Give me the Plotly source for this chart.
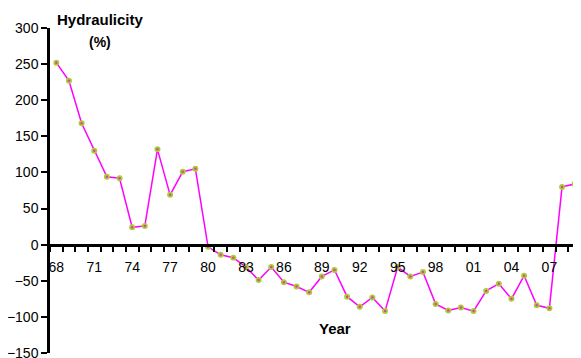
import plotly.graph_objects as go

years = list(range(1968, 2010))
hydraulicity = [252, 227, 168, 130, 94, 92, 24, 26, 132, 69, 101, 105,
                -3, -14, -18, -31, -49, -31, -52, -58, -66, -44, -35, -72,
                -86, -73, -92, -31, -44, -38, -82, -91, -87, -92, -64, -54,
                -75, -43, -84, -88, 80, 84]

tick_years = list(range(1968, 2010, 3))
tick_labels = [f"{y % 100:02d}" for y in tick_years]
y_ticks = [300, 250, 200, 150, 100, 50, 0, -50, -100, -150]

font = "Liberation Sans, Arial, sans-serif"

# The page body adds an 8px offset; the figure is sized to compensate.
OFF = 8
W, H = 581 - OFF, 358 - OFF
L, R, T, B = 50 - OFF, 0, 28 - OFF, 5
pw, ph = W - L - R, H - T - B


def px(xp):
    return (xp - OFF - L) / pw


def py(yp):
    return (H - B - (yp - OFF)) / ph


fig = go.Figure()
fig.add_trace(go.Scatter(
    x=years, y=hydraulicity, mode="lines+markers",
    line=dict(color="#FF00FF", width=1.5),
    marker=dict(symbol="circle", size=6, color="#AFCB3A",
                line=dict(width=0)),
    showlegend=False, hoverinfo="x+y", cliponaxis=False))
fig.add_trace(go.Scatter(
    x=years, y=hydraulicity, mode="markers",
    marker=dict(symbol="circle", size=2.5, color="#D04C9A",
                line=dict(width=0)),
    showlegend=False, hoverinfo="skip", cliponaxis=False))

ymin, ymax = -150, 300
fig.update_layout(
    width=W, height=H,
    margin=dict(l=L, r=R, t=T, b=B, autoexpand=False),
    paper_bgcolor="white", plot_bgcolor="white",
    font=dict(family=font, size=14, color="black"),
    xaxis=dict(
        range=[1967.5, 2009.5],
        tickvals=tick_years, ticktext=tick_labels,
        ticks="outside", ticklen=9, tickcolor="rgba(0,0,0,0)",
        minor=dict(tickvals=[y + 0.5 for y in range(1967, 2010)],
                   ticks="outside", ticklen=6, tickwidth=2,
                   tickcolor="black"),
        showline=True, linecolor="black", linewidth=2.5,
        showgrid=False, zeroline=False, automargin=False,
        anchor="free", position=(0 - ymin) / (ymax - ymin),
        tickfont=dict(size=14, family=font),
    ),
    yaxis=dict(
        range=[ymin, ymax],
        tickvals=y_ticks,
        ticks="outside", ticklen=6, tickwidth=2, tickcolor="black",
        showline=True, linecolor="black", linewidth=2.5,
        showgrid=False, zeroline=False, automargin=False,
        ticklabeloverflow="allow",
        tickfont=dict(size=14, family=font),
    ),
)

fig.add_annotation(text="<b>Hydraulicity</b>", x=px(100), y=py(20),
                   xref="paper", yref="paper", showarrow=False,
                   xanchor="center", yanchor="middle",
                   font=dict(size=15, family=font))
fig.add_annotation(text="<b>(%)</b>", x=px(100), y=py(42),
                   xref="paper", yref="paper", showarrow=False,
                   xanchor="center", yanchor="middle",
                   font=dict(size=14, family=font))
fig.add_annotation(text="<b>Year</b>", x=px(335), y=py(328),
                   xref="paper", yref="paper", showarrow=False,
                   xanchor="center", yanchor="middle",
                   font=dict(size=15, family=font))

fig.write_html("out.html")
